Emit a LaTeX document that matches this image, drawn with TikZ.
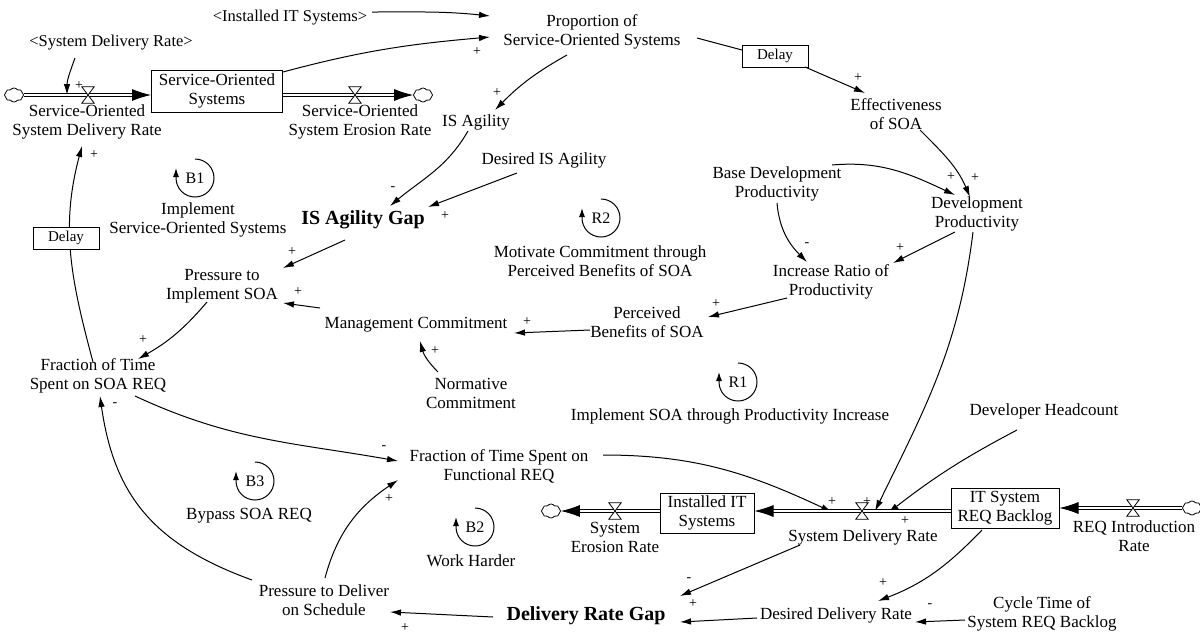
\documentclass[tikz,border=0pt]{standalone}
\usepackage{fontspec}
\setmainfont{Liberation Serif}
\usetikzlibrary{arrows.meta,shapes.symbols}
\begin{document}
\begin{tikzpicture}[x=1pt,y=1pt,
  var/.style={align=center,font=\fontsize{17}{19}\selectfont,inner sep=1pt},
  gapvar/.style={font=\bfseries\fontsize{20}{22}\selectfont,inner sep=1pt},
  shadowvar/.style={font=\fontsize{16.5}{19}\selectfont,inner sep=1pt},
  stock/.style={draw,line width=1pt,fill=white,align=center,font=\fontsize{17}{19}\selectfont,inner sep=1pt},
  delaybox/.style={draw,line width=0.9pt,fill=white,minimum width=66pt,minimum height=22pt,inner sep=0pt,font=\fontsize{15}{17}\selectfont},
  link/.style={line width=1pt,-{Latex[length=11pt,width=6.5pt]}},
  plainlink/.style={line width=1pt},
  pipe/.style={double,double distance=2.6pt,line width=0.8pt,-{Latex[length=19pt,width=12pt]}},
  valvebox/.style={minimum width=12pt,minimum height=16pt,inner sep=0pt},
  valveline/.style={line width=0.8pt,fill=white,line join=miter},
  sink/.style={cloud,cloud puffs=8,cloud puff arc=110,aspect=1.4,draw,line width=0.8pt,minimum width=19pt,minimum height=14pt,inner sep=0pt,fill=white},
  sign/.style={font=\fontsize{14}{14}\selectfont,inner sep=0pt},
  loopid/.style={font=\fontsize{16}{18}\selectfont,inner sep=0pt},
  looparc/.style={line width=1pt,-{Latex[length=9pt,width=6pt]}}
]
\useasboundingbox (0,0) rectangle (1200,-633);

% ---------- variables ----------
\node[shadowvar] (instsh) at (290,-18) {<Installed IT Systems>};
\node[shadowvar] (sdrsh) at (111,-43) {<System Delivery Rate>};
\node[var] (prop) at (592,-32) {Proportion of\\Service-Oriented Systems};
\node[stock,minimum width=131pt,minimum height=42pt] (sos) at (217,-91) {Service-Oriented\\Systems};
\node[var] (sosin) at (87,-122) {Service-Oriented\\System Delivery Rate};
\node[var] (soser) at (360,-122) {Service-Oriented\\System Erosion Rate};
\node[delaybox] (delay1) at (775,-56) {Delay};
\node[var] (eff) at (896,-114) {Effectiveness\\of SOA};
\node[var] (isag) at (476,-122) {IS Agility};
\node[var] (desag) at (544,-160) {Desired IS Agility};
\node[gapvar] (gap) at (363,-220) {IS Agility Gap};
\node[var] (base) at (777,-184) {Base Development\\Productivity};
\node[var] (devp) at (977,-214) {Development\\Productivity};
\node[var] (incr) at (831,-282) {Increase Ratio of\\Productivity};
\node[var] (perc) at (647,-322) {Perceived\\Benefits of SOA};
\node[var] (mgmt) at (416,-325) {Management Commitment};
\node[var] (norm) at (471,-393) {Normative\\Commitment};
\node[var] (press) at (222,-286) {Pressure to\\Implement SOA};
\node[var] (frac) at (98,-376) {Fraction of Time\\Spent on SOA REQ};
\node[var] (func) at (499,-466) {Fraction of Time Spent on\\Functional REQ};
\node[var] (pdel) at (324,-600) {Pressure to Deliver\\on Schedule};
\node[gapvar] (drg) at (586,-616) {Delivery Rate Gap};
\node[var] (desd) at (836,-615) {Desired Delivery Rate};
\node[var] (cyc) at (1042,-614) {Cycle Time of\\System REQ Backlog};
\node[stock,minimum width=108pt,minimum height=40pt] (backlog) at (1005,-508) {IT System\\REQ Backlog};
\node[stock,minimum width=94pt,minimum height=40pt] (inst) at (707,-513) {Installed IT\\Systems};
\node[var] (sdr) at (863,-537) {System Delivery Rate};
\node[var] (syser) at (615,-537) {System\\Erosion Rate};
\node[var] (reqin) at (1134,-536) {REQ Introduction\\Rate};
\node[var] (devh) at (1044,-411) {Developer Headcount};

% ---------- valves and clouds ----------
\node[valvebox] (v1) at (88,-95) {};
\node[valvebox] (v2) at (355,-95) {};
\node[valvebox] (v3) at (862,-511) {};
\node[valvebox] (v4) at (615,-511) {};
\node[valvebox] (v5) at (1133,-508) {};
\node[sink] (cl1) at (14,-95) {};
\node[sink] (cl2) at (423,-95) {};
\node[sink] (cl3) at (1192,-508) {};
\node[sink] (cl4) at (551,-511) {};

% ---------- causal links ----------
\draw[link] ([shift={(82,6)}]instsh.center) to[out=0,in=174] ([shift={(-102,16)}]prop.center);
\draw[link] ([shift={(66,19)}]sos.center) to[out=15,in=-175] ([shift={(-102,-5)}]prop.center);
\draw[link] ([shift={(-36,-15)}]sdrsh.center) to[out=-110,in=90] ([shift={(-21,0)}]v1.center);
\draw[plainlink] ([shift={(105,-6)}]prop.center) -- ([shift={(-33,6)}]delay1.center);
\draw[link] ([shift={(30,-11)}]delay1.center) -- ([shift={(-31,21)}]eff.center);
\draw[link] ([shift={(-25,-23)}]prop.center) to[bend right=8] ([shift={(19,12)}]isag.center);
\draw[link] ([shift={(-8,-9)}]isag.center) to[out=-120,in=40] ([shift={(27,14)}]gap.center);
\draw[link] ([shift={(-27,-13)}]desag.center) -- ([shift={(65,13)}]gap.center);
\draw[link] ([shift={(55,19)}]base.center) to[out=5,in=155] ([shift={(-22,19)}]devp.center);
\draw[link] ([shift={(24,-16)}]eff.center) to[out=-45,in=113] ([shift={(-7,17)}]devp.center);
\draw[link] ([shift={(0,-19)}]base.center) to[out=-85,in=135] ([shift={(-24,20)}]incr.center);
\draw[link] ([shift={(-22,-18)}]devp.center) -- ([shift={(62,19)}]incr.center);
\draw[link] ([shift={(-44,-16)}]incr.center) -- ([shift={(61,5)}]perc.center);
\draw[link] ([shift={(-4,-18)}]devp.center) to[out=-97,in=64] ([shift={(13,0)}]v3.center);
\draw[link] ([shift={(-27,-19)}]devh.center) to[bend right=5] ([shift={(26,-2)}]v3.center);
\draw[link] ([shift={(104,11)}]func.center) to[out=0,in=155] ([shift={(-30,-1)}]v3.center);
\draw[link] ([shift={(-23,-22)}]backlog.center) to[out=-134,in=21] ([shift={(42,14)}]desd.center);
\draw[link] ([shift={(-77,-6)}]cyc.center) -- ([shift={(79,-7)}]desd.center);
\draw[link] ([shift={(-79,-3)}]desd.center) -- ([shift={(94,-6)}]drg.center);
\draw[link] ([shift={(-63,-8)}]sdr.center) -- ([shift={(94,20)}]drg.center);
\draw[link] ([shift={(-93,-1)}]drg.center) -- ([shift={(66,-12)}]pdel.center);
\draw[link] ([shift={(1,22)}]pdel.center) to[out=75,in=-146] ([shift={(-101,-14)}]func.center);
\draw[link] ([shift={(-72,20)}]pdel.center) to[out=160,in=-82,looseness=1.1] ([shift={(2,-20)}]frac.center);
\draw[link] ([shift={(37,-20)}]frac.center) to[out=-25,in=170] ([shift={(-101,5)}]func.center);
\draw[link] ([shift={(-15,-16)}]press.center) to[bend left=10] ([shift={(40,17)}]frac.center);
\draw[link] ([shift={(-18,-20)}]gap.center) -- ([shift={(61,18)}]press.center);
\draw[link] ([shift={(-96,17)}]mgmt.center) -- ([shift={(61,-17)}]press.center);
\draw[link] ([shift={(-33,21)}]norm.center) to[bend left=15] ([shift={(4,-16)}]mgmt.center);
\draw[link] ([shift={(-57,-8)}]perc.center) -- ([shift={(98,-8)}]mgmt.center);
\draw[link] ([shift={(-5,14)}]frac.center) to[out=105,in=-105] ([shift={(-5,-24)}]sosin.center);
\node[delaybox] (delay2) at (66,-238) {Delay};

% ---------- material flows ----------
\draw[pipe] (cl1.east) -- (sos.west |- cl1);
\draw[pipe] (sos.east |- cl2) -- (cl2.west);
\draw[pipe] (cl3.west) -- (backlog.east |- cl3);
\draw[pipe] (backlog.west |- v3) -- (inst.east |- v3);
\draw[pipe] (inst.west |- v4) -- (cl4.east);
\foreach \v in {v1,v2,v3,v4,v5}
  \draw[valveline] (\v.north west) -- (\v.north east) -- (\v.south west) -- (\v.south east) -- cycle;

% ---------- polarities ----------
\node[sign] (s1) at (477,-52) {+};
\node[sign] (s2) at (79,-86) {+};
\node[sign] (s3) at (858,-78) {+};
\node[sign] (s4) at (497,-93) {+};
\node[sign] (s5) at (393,-189) {-};
\node[sign] (s6) at (445,-216) {+};
\node[sign] (s7) at (951,-177) {+};
\node[sign] (s8) at (975,-178) {+};
\node[sign] (s9) at (807,-245) {-};
\node[sign] (s10) at (900,-248) {+};
\node[sign] (s11) at (716,-304) {+};
\node[sign] (s12) at (867,-502) {+};
\node[sign] (s13) at (905,-521) {+};
\node[sign] (s14) at (832,-502) {+};
\node[sign] (s15) at (883,-583) {+};
\node[sign] (s16) at (930,-606) {-};
\node[sign] (s17) at (693,-604) {+};
\node[sign] (s18) at (689,-580) {-};
\node[sign] (s19) at (405,-628) {+};
\node[sign] (s20) at (389,-499) {+};
\node[sign] (s21) at (115,-405) {-};
\node[sign] (s22) at (384,-448) {-};
\node[sign] (s23) at (143,-340) {+};
\node[sign] (s24) at (292,-252) {+};
\node[sign] (s25) at (298,-292) {+};
\node[sign] (s26) at (435,-351) {+};
\node[sign] (s27) at (527,-322) {+};
\node[sign] (s28) at (94,-155) {+};

% ---------- feedback loops ----------
\foreach \n/\t/\x/\y in {lb1/B1/195/-178, lr2/R2/601/-218, lb3/B3/255/-481, lb2/B2/475/-527, lr1/R1/738/-382} {
  \node[loopid] (\n) at (\x,\y) {\t};
  \draw[looparc] ([shift={(90:19)}]\n.center) arc[start angle=90,end angle=-180,radius=19] -- ++(0,10);
}
\node[var] (lb1txt) at (198,-220) {Implement\\Service-Oriented Systems};
\node[var] (lr2txt) at (600,-261) {Motivate Commitment through\\Perceived Benefits of SOA};
\node[var] (lr1txt) at (730,-416) {Implement SOA through Productivity Increase};
\node[var] (lb3txt) at (249,-516) {Bypass SOA REQ};
\node[var] (lb2txt) at (471,-561) {Work Harder};
\end{tikzpicture}
\end{document}
